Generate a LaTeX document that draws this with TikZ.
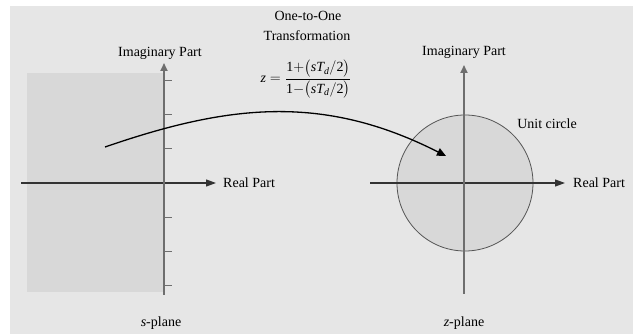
\documentclass[tikz,border=0pt]{standalone}
\usepackage{amsmath}
\usepackage{fontspec}
\setmainfont{Liberation Serif}
\usetikzlibrary{arrows.meta}
\definecolor{bgc}{HTML}{E6E6E6}
\definecolor{shadec}{HTML}{D8D8D8}
\definecolor{vaxc}{HTML}{6E6E6E}
\definecolor{haxc}{HTML}{333333}
\definecolor{circc}{HTML}{555555}
\begin{document}
\begin{tikzpicture}[x=1pt,y=-1pt,
  font=\fontsize{14}{16}\selectfont,
  lbl/.style={inner sep=0pt, text=black},
  haxis/.style={haxc, line width=1.2pt, -{Triangle[length=10pt,width=7pt]}},
  vaxis/.style={vaxc, line width=1.8pt, -{Triangle[length=8pt,width=7pt]}},
  tick/.style={vaxc, line width=1pt},
  mapcurve/.style={black, line width=1.3pt, -{Triangle[length=9pt,width=8pt]}}]
\useasboundingbox (0,0) rectangle (633,334);
\fill[white] (0,0) rectangle (633,334);
\fill[bgc] (10,6) rectangle (633,334);
% s-plane
\fill[shadec] (27,73) rectangle (164,292);
\coordinate (sxl) at (21,183);
\coordinate (sxr) at (216,183);
\coordinate (syb) at (164,295);
\coordinate (syt) at (164,63);
\draw[haxis] (sxl) -- (sxr);
\draw[vaxis] (syb) -- (syt);
\foreach \y in {81,115,149,218,252,286} \draw[tick] (164,\y) -- (172,\y);
\node[lbl, anchor=west] (sreal) at (223,183) {Real Part};
\node[lbl] (simag) at (160,53) {Imaginary Part};
\node[lbl] (splane) at (161,323) {\textit{s}-plane};
% z-plane
\node[circle, draw=circc, line width=0.8pt, fill=shadec, minimum size=136pt, inner sep=0pt] (uc) at (465,183) {};
\coordinate (zxl) at (370,183);
\coordinate (zxr) at (565,183);
\coordinate (zyb) at (464,294);
\coordinate (zyt) at (464,65);
\draw[haxis] (zxl) -- (zxr);
\draw[vaxis] (zyb) -- (zyt);
\node[lbl, anchor=west] (zreal) at (573,183) {Real Part};
\node[lbl] (zimag) at (464,52) {Imaginary Part};
\node[lbl] (zplane) at (464,323) {\textit{z}-plane};
\node[lbl] (ucl) at (547,124) {Unit circle};
% transformation
\node[lbl] (t1) at (308,16) {One-to-One};
\node[lbl] (t2) at (307,36) {Transformation};
\node[lbl, font=\fontsize{14}{16}\selectfont] (eq) at (306,79)
  {$\textit{z}={}\dfrac{\text{1}{+}\bigl(\textit{sT}_{\textit{d}}/\text{2}\bigr)}{\text{1}{-}\bigl(\textit{sT}_{\textit{d}}/\text{2}\bigr)}$};
\coordinate (c0) at (105,147);
\coordinate (c1) at (446,156);
\draw[mapcurve] (c0) .. controls (227,105) and (322,93) .. (c1);
\end{tikzpicture}
\end{document}
